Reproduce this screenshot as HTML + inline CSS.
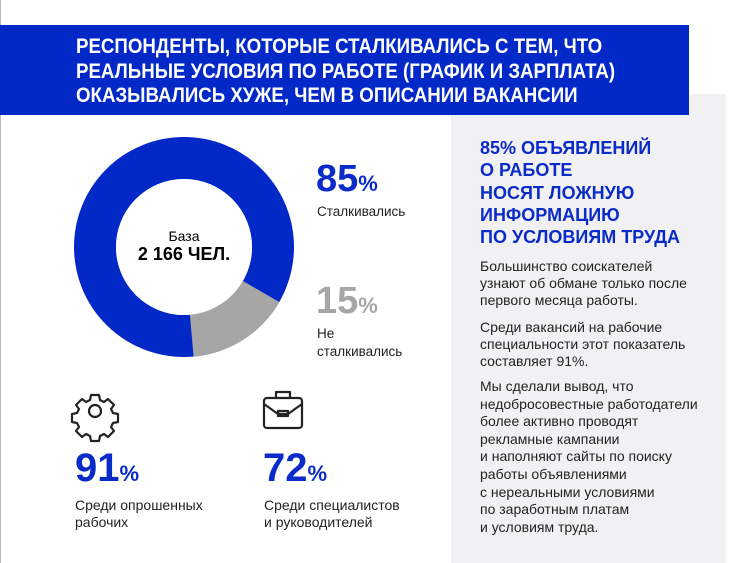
<!DOCTYPE html>
<html><head><meta charset="utf-8"><style>
body{margin:0;width:730px;height:563px;background:#fff;position:relative;overflow:hidden;font-family:"Liberation Sans",sans-serif;}
.a{position:absolute;white-space:nowrap;}
.blue{color:#0a2bc8;}
</style></head><body>
<div class="a" style="left:0;top:0;width:1px;height:563px;background:#bbb"></div>
<div class="a" style="left:451px;top:94px;width:275px;height:469px;background:#f1f1f3"></div>
<div class="a" style="left:0;top:25px;width:689px;height:90px;background:#0328c8"></div>
<div class="a" style="left:76px;top:35px;color:#fff;font-weight:bold;font-size:21px;line-height:24.5px;transform:scaleX(0.89);transform-origin:0 0;">РЕСПОНДЕНТЫ, КОТОРЫЕ СТАЛКИВАЛИСЬ С ТЕМ, ЧТО<br>РЕАЛЬНЫЕ УСЛОВИЯ ПО РАБОТЕ (ГРАФИК И ЗАРПЛАТА)<br>ОКАЗЫВАЛИСЬ ХУЖЕ, ЧЕМ В ОПИСАНИИ ВАКАНСИИ</div>

<svg class="a" style="left:0;top:0" width="450" height="563">
<circle cx="184" cy="247" r="89" fill="none" stroke="#0328c8" stroke-width="42"/>
<path d="M184 247 L279.3 302 A110 110 0 0 1 193.6 356.6 Z" fill="#a6a6a6"/>
<circle cx="184" cy="247" r="68" fill="#fff"/>
<g fill="none" stroke="#222" stroke-width="2.2" stroke-linejoin="round">
<path d="M91 395 h8 l1 5 l4 2 l4-3 l6 6 l-3 4 l2 4 l5 1 v8 l-5 1 l-2 4 l3 4 l-6 6 l-4-3 l-4 2 l-1 5 h-8 l-1-5 l-4-2 l-4 3 l-6-6 l3-4 l-2-4 l-5-1 v-8 l5-1 l2-4 l-3-4 l6-6 l4 3 l4-2 z"/>
<circle cx="95" cy="411" r="6"/>
<rect x="264" y="398" width="38" height="30" rx="3"/>
<path d="M276 398 v-6 h14 v6 M264 404 l14 10 h10 l14-10"/>
<rect x="278" y="411" width="10" height="5"/>
</g>
</svg>
<div class="a" style="left:112px;top:228px;font-size:14px;width:144px;text-align:center">База</div>
<div class="a" style="left:112px;top:244px;font-size:18px;font-weight:bold;width:144px;text-align:center">2 166 ЧЕЛ.</div>

<div class="a blue" style="left:316px;top:158px;font-size:38px;font-weight:bold">85<span style="font-size:22px">%</span></div>
<div class="a" style="left:317px;top:204px;font-size:13.5px;color:#222">Сталкивались</div>
<div class="a" style="left:316px;top:280px;font-size:38px;font-weight:bold;color:#a6a6a6">15<span style="font-size:22px">%</span></div>
<div class="a" style="left:317px;top:325px;font-size:13.5px;line-height:18px;color:#222">Не<br>сталкивались</div>

<div class="a blue" style="left:75px;top:446px;font-size:40px;font-weight:bold">91<span style="font-size:22px">%</span></div>
<div class="a" style="left:75px;top:497px;font-size:14px;line-height:17px;color:#222">Среди опрошенных<br>рабочих</div>
<div class="a blue" style="left:263px;top:446px;font-size:40px;font-weight:bold">72<span style="font-size:22px">%</span></div>
<div class="a" style="left:264px;top:497px;font-size:14px;line-height:17px;color:#222">Среди специалистов<br>и руководителей</div>

<div class="a blue" style="left:480px;top:137px;font-size:18px;font-weight:bold;line-height:22.3px;color:#0a2bc8">85% ОБЪЯВЛЕНИЙ<br>О РАБОТЕ<br>НОСЯТ ЛОЖНУЮ<br>ИНФОРМАЦИЮ<br>ПО УСЛОВИЯМ ТРУДА</div>
<div class="a" style="left:480px;top:258px;font-size:14px;line-height:17px;color:#222">Большинство соискателей<br>узнают об обмане только после<br>первого месяца работы.</div>
<div class="a" style="left:480px;top:319px;font-size:14px;line-height:17px;color:#222">Среди вакансий на рабочие<br>специальности этот показатель<br>составляет 91%.</div>
<div class="a" style="left:480px;top:378px;font-size:14px;line-height:17.6px;color:#222">Мы сделали вывод, что<br>недобросовестные работодатели<br>более активно проводят<br>рекламные кампании<br>и наполняют сайты по поиску<br>работы объявлениями<br>с нереальными условиями<br>по заработным платам<br>и условиям труда.</div>
</body></html>
